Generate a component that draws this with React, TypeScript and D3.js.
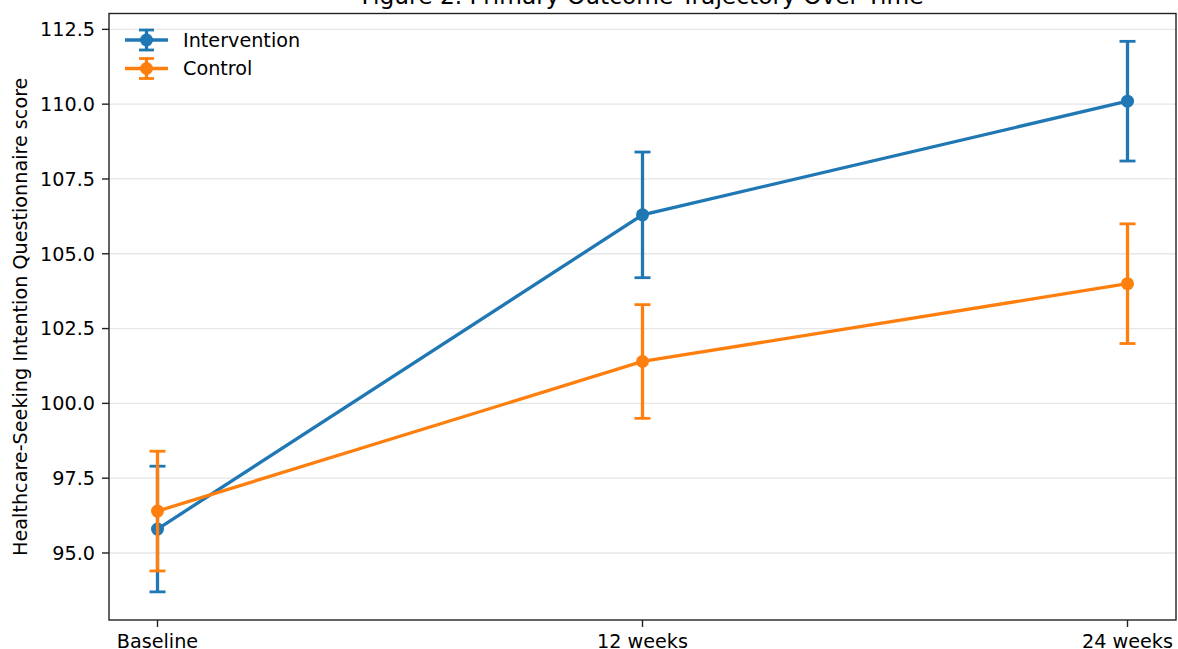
import React from "react";
import * as d3 from "d3";

const categories = ["Baseline", "12 weeks", "24 weeks"];
const interventionMean = [95.8, 106.3, 110.1];
const interventionLow = [93.7, 104.2, 108.1];
const interventionHigh = [97.9, 108.4, 112.1];
const controlMean = [96.4, 101.4, 104.0];
const controlLow = [94.4, 99.5, 102.0];
const controlHigh = [98.4, 103.3, 106.0];
const yTicks = [95.0, 97.5, 100.0, 102.5, 105.0, 107.5, 110.0, 112.5];

const series = [
  { name: "Intervention", color: "#1f77b4", mean: interventionMean, low: interventionLow, high: interventionHigh },
  { name: "Control", color: "#ff7f0e", mean: controlMean, low: controlLow, high: controlHigh },
];

const W = 1178, H = 649;
const left = 109, right = 1176, top = 13.5, bottom = 620;
const font = "DejaVu Sans, sans-serif";
const fs = 19.2;

export default function App() {
  const x = d3.scaleLinear().domain([-0.1, 2.1]).range([left, right]);
  const y = d3.scaleLinear().domain([92.76, 113.03]).range([bottom, top]);
  const line = d3.line<number>().x((_, i) => x(i)).y((d) => y(d));
  const cap = 8;
  const lw = 3.3;
  const mr = 6.5;
  return (
    <svg width={W} height={H} style={{ position: "absolute", left: 0, top: 0 }} fontFamily={font}>
      <rect x={0} y={0} width={W} height={H} fill="white" />
      <text x={(left + right) / 2} y={3.5} textAnchor="middle" fontSize={23.3} fill="#000">
        Figure 2. Primary Outcome Trajectory Over Time
      </text>
      {yTicks.map((t) => (
        <line key={"g" + t} x1={left} x2={right} y1={y(t)} y2={y(t)} stroke="#e6e6e6" strokeWidth={1.3} />
      ))}
      {series.map((s) => (
        <g key={s.name}>
          {s.mean.map((m, i) => (
            <g key={i} stroke={s.color} strokeWidth={lw}>
              <line x1={x(i)} x2={x(i)} y1={y(s.low[i])} y2={y(s.high[i])} />
              <line x1={x(i) - cap} x2={x(i) + cap} y1={y(s.low[i])} y2={y(s.low[i])} strokeWidth={2.8} />
              <line x1={x(i) - cap} x2={x(i) + cap} y1={y(s.high[i])} y2={y(s.high[i])} strokeWidth={2.8} />
            </g>
          ))}
          <path d={line(s.mean) || ""} fill="none" stroke={s.color} strokeWidth={lw} />
          {s.mean.map((m, i) => (
            <circle key={"c" + i} cx={x(i)} cy={y(m)} r={mr} fill={s.color} />
          ))}
        </g>
      ))}
      <rect x={left} y={top} width={right - left} height={bottom - top} fill="none" stroke="#222" strokeWidth={1.4} />
      {yTicks.map((t) => (
        <g key={"t" + t}>
          <line x1={left - 7} x2={left} y1={y(t)} y2={y(t)} stroke="#222" strokeWidth={1.4} />
          <text x={left - 14} y={y(t)} dy="0.36em" textAnchor="end" fontSize={fs} fill="#000">
            {t.toFixed(1)}
          </text>
        </g>
      ))}
      {categories.map((c, i) => (
        <g key={c}>
          <line x1={x(i)} x2={x(i)} y1={bottom} y2={bottom + 7} stroke="#222" strokeWidth={1.4} />
          <text x={x(i)} y={647.5} textAnchor="middle" fontSize={fs} fill="#000">
            {c}
          </text>
        </g>
      ))}
      <text transform={`translate(26.5,${(top + bottom) / 2}) rotate(-90)`} textAnchor="middle" fontSize={fs} fill="#000">
        Healthcare-Seeking Intention Questionnaire score
      </text>
      {series.map((s, k) => {
        const ly = 40 + k * 28.5;
        return (
          <g key={"l" + s.name}>
            <line x1={125} x2={168} y1={ly} y2={ly} stroke={s.color} strokeWidth={lw} />
            <line x1={146.5} x2={146.5} y1={ly - 10} y2={ly + 10} stroke={s.color} strokeWidth={lw} />
            <line x1={139} x2={154} y1={ly - 10} y2={ly - 10} stroke={s.color} strokeWidth={2.8} />
            <line x1={139} x2={154} y1={ly + 10} y2={ly + 10} stroke={s.color} strokeWidth={2.8} />
            <circle cx={146.5} cy={ly} r={mr} fill={s.color} />
            <text x={183} y={ly} dy="0.36em" fontSize={fs} fill="#000">
              {s.name}
            </text>
          </g>
        );
      })}
    </svg>
  );
}
